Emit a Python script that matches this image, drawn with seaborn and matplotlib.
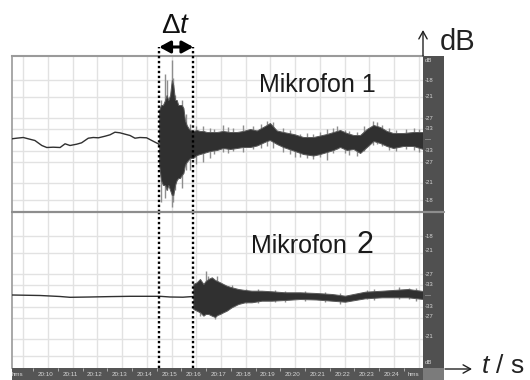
import matplotlib
matplotlib.use("Agg")
import matplotlib.pyplot as plt
import matplotlib.transforms as mtransforms
from matplotlib.lines import Line2D
import seaborn as sns

# ---------------- data (time in s after 20:00, amplitude in relative units) ----------------
# Mikrofon 1: quiet signal before the sound arrives
m1_pre_t = [8.54, 8.73, 9.00, 9.20, 9.47, 9.75, 9.95, 10.21, 10.49, 10.69, 10.89, 11.16, 11.36,
            11.63, 11.83, 12.04, 12.31, 12.51, 12.71, 12.91, 13.12, 13.32, 13.52, 13.72, 13.99,
            14.20, 14.46, 14.50]
m1_pre_a = [1.2, 1.8, 2.5, 1.2, -0.5, -5.5, -7.5, -7.2, -7.5, -3.8, -5.5, -4.2, -2.8,
            1.8, 2.5, 2.2, 3.8, 5.2, 7.8, 7.2, 5.8, 4.5, 1.8, 2.5, 2.2,
            -0.5, -3.8, -4.8]
# Mikrofon 1: envelope of the signal after arrival
m1_t = [14.50, 14.57, 14.65, 14.74, 14.80, 14.87, 14.94, 15.01, 15.07, 15.14, 15.21, 15.27, 15.34,
        15.41, 15.48, 15.54, 15.61, 15.68, 15.75, 15.87, 16.02, 16.15, 16.29, 16.42, 16.56, 16.83,
        17.08, 17.37, 17.64, 17.89, 18.18, 18.45, 18.85, 18.98, 19.26, 19.52, 19.93, 20.33, 20.74,
        21.01, 21.28, 21.55, 21.82, 22.09, 22.36, 22.63, 22.90, 23.17, 23.44, 23.71, 23.97, 24.38,
        24.78, 25.18]
m1_hi = [30, 35, 35, 40, 45, 40, 45, 60, 55, 40, 40, 35, 35, 35, 32, 20, 15, 12, 10, 9,
         10, 9, 9, 8, 8, 8, 9, 8, 8, 9, 11, 9.5, 15, 17, 9.5, 8, 6, 3, 3, 4.5,
         6, 8, 10, 7, 5, 5, 11, 15, 13, 9, 7, 7, 8, 8]
m1_lo = [-25, -40, -45, -45, -50, -45, -50, -55, -55, -45, -40, -38, -38, -35, -33, -25, -22, -20, -18, -18,
         -15, -14, -13, -12, -11, -10, -8, -9, -8, -7, -7, -5.5, -1, 0, -4, -7, -10.5, -14, -15.5, -14,
         -12, -10, -7, -10, -9, -13, -7, -1, -3, -6, -8, -6, -6, -9]
# Mikrofon 1: single peaks sticking out of the envelope
m1_spk_t = [14.57, 14.74, 14.81, 15.01, 15.07, 15.14, 15.41, 15.58, 15.75, 15.99, 16.28, 16.56,
            16.70, 17.08, 17.30, 17.50, 17.89, 18.30, 18.60, 18.86, 19.10, 19.50, 19.80, 20.00,
            20.20, 20.50, 20.74, 21.00, 21.28, 21.55, 21.70, 22.00, 22.20, 22.50, 22.80, 23.15,
            23.30, 23.50, 23.80, 24.10, 24.50, 24.80, 25.00]
m1_spk_lo = [-62, -58, -50, -67, -62, -50, -48, -30, -30, -24, -22, -18,
             -14, -12, -13, -11, -12, -9, -8, -6, -8, -12, -14, -17,
             -17, -18, -19, -17, -20, -13, -9, -13, -15, -16, -11, -5,
             -4, -6, -10, -11, -9, -10, -12]
m1_spk_hi = [40, 66, 60, 80, 62, 45, 40, 26, 16, 14, 14, 12,
             11, 15, 13, 12, 15, 14, 16, 19, 18, 12, 10, 6,
             6, 7, 6, 8, 11, 12, 14, 10, 9, 8, 14, 19,
             18, 15, 12, 10, 11, 12, 11]

# Mikrofon 2
m2_pre_t = [8.54, 9.68, 10.49, 10.89, 11.70, 12.51, 13.32, 14.13, 14.53, 14.94, 15.46, 15.88]
m2_pre_a = [1.0, 0.5, -0.5, -1.3, -1.0, -0.6, -0.3, -0.3, -0.3, -1.0, -1.2, -0.5]
m2_t = [15.88, 16.02, 16.15, 16.29, 16.38, 16.49, 16.63, 16.76, 16.85, 16.96, 17.09, 17.23, 17.43,
        17.70, 17.97, 18.24, 18.65, 19.05, 19.59, 20.20, 20.85, 21.49, 22.02, 22.83, 23.52, 24.57, 25.18]
m2_hi = [12, 13.7, 17, 12, 15, 17, 18.7, 16, 15, 13.7, 12, 10.3, 8.7,
         7, 6, 5.3, 5.3, 4.7, 3.7, 3.7, 3, 2, 0.3, 4.3, 5.3, 7, 5]
m2_lo = [-13, -14.7, -16.3, -19.7, -18, -18, -19.7, -21, -19, -18, -16.3, -14.7, -11.3,
         -8, -6.3, -6.3, -4.7, -4.7, -4, -3, -3.5, -4.7, -5.7, -2.3, -1.3, -1.3, -3]
m2_spk_t = [16.15, 16.38, 16.49, 16.76, 16.85, 17.43, 18.0, 18.5, 19.2, 19.6, 20.4, 21.2,
            21.8, 22.9, 23.2, 24.2, 24.6, 24.9]
m2_spk_lo = [-20, -14, -16, -23, -15, -10, -7, -7, -6, -6, -5, -6,
             -8, -3, -4, -3, -3, -5]
m2_spk_hi = [14, 25, 20, 15, 20, 11, 7, 7, 6, 5, 5, 4,
             3, 6, 7, 9, 8, 8]

# arrival times (dotted markers)
t_arrival = [14.50, 15.88]

# time axis labels
time_ticks = [10, 11, 12, 13, 14, 15, 16, 17, 18, 19, 20, 21, 22, 23, 24]
time_labels = ["20:10", "20:11", "20:12", "20:13", "20:14", "20:15", "20:16", "20:17",
               "20:18", "20:19", "20:20", "20:21", "20:22", "20:23", "20:24"]
grid_t = list(range(9, 26))

# dB scale labels (right strip)
grid_pos = [60, 43, 22, 11, -11, -22, -43, -60]
s1_pos = [80, 60, 43, 22, 11, 0, -11, -22, -43, -60]
s1_lab = ["dB", "-18", "-21", "-27", "-33", "—", "-33", "-27", "-21", "-18"]
s2_pos = [60, 46, 22, 12, 0, -10, -20, -41, -66]
s2_lab = ["-18", "-21", "-27", "-33", "—", "-33", "-27", "-21", "dB"]

T0, T1 = 8.543, 25.176
Y0, Y1 = -72, 84

# ---------------- figure ----------------
sns.set_theme(style="whitegrid")
plt.rcParams["font.family"] = ["Liberation Sans", "DejaVu Sans"]
plt.rcParams["mathtext.fontset"] = "custom"
plt.rcParams["mathtext.rm"] = "Liberation Sans"
plt.rcParams["mathtext.it"] = "Liberation Sans:italic"

W, H = 530, 380
fig = plt.figure(figsize=(W / 100, H / 100), dpi=100)
fig.patch.set_facecolor("white")


def fr(x0, y0, x1, y1):
    return [x0 / W, 1 - y1 / H, (x1 - x0) / W, (y1 - y0) / H]


ax1 = fig.add_axes(fr(12, 56, 423, 212))
ax2 = fig.add_axes(fr(12, 212, 423, 368))
s1 = fig.add_axes(fr(423, 56, 444, 212))
s2 = fig.add_axes(fr(423, 212, 444, 368))
tstrip = fig.add_axes(fr(12, 368, 423, 380))
corner = fig.add_axes(fr(423, 368, 444, 380))

DARK = "#303030"
LIGHT = "#8e8e8e"

for ax in (ax1, ax2):
    ax.set_facecolor("white")
    ax.set_xlim(T0, T1)
    ax.set_ylim(Y0, Y1)
    ax.set_xticks(grid_t)
    ax.set_yticks(grid_pos)
    ax.tick_params(length=0, labelbottom=False, labelleft=False)
    ax.grid(True, color="#e2e2e2", lw=1.0)
    ax.set_axisbelow(True)
    for side in ax.spines:
        ax.spines[side].set_visible(False)
    ax.spines["left"].set_visible(True)
    ax.spines["left"].set_color("#9a9a9a")
    ax.spines["left"].set_linewidth(1.2)
ax1.spines["top"].set_visible(True)
ax1.spines["top"].set_color("#9a9a9a")
ax1.spines["top"].set_linewidth(1.5)

# Mikrofon 1
sns.lineplot(x=m1_pre_t, y=m1_pre_a, ax=ax1, color=DARK, lw=1.0, zorder=3)
ax1.vlines(m1_spk_t, m1_spk_lo, m1_spk_hi, color=LIGHT, lw=1.0, zorder=2)
ax1.fill_between(m1_t, m1_lo, m1_hi, color=DARK, lw=0.7, edgecolor="#5a5a5a", zorder=3)

# Mikrofon 2
sns.lineplot(x=m2_pre_t, y=m2_pre_a, ax=ax2, color=DARK, lw=1.0, zorder=3)
ax2.vlines(m2_spk_t, m2_spk_lo, m2_spk_hi, color=LIGHT, lw=1.0, zorder=2)
ax2.fill_between(m2_t, m2_lo, m2_hi, color=DARK, lw=0.7, edgecolor="#5a5a5a", zorder=3)
for ax in (ax1, ax2):
    ax.set_xlabel("")
    ax.set_ylabel("")

# dotted arrival lines
for t in t_arrival:
    ax1.axvline(t, ymin=0, ymax=(212 - 47) / 156, color="black", lw=1.7,
                ls=(0, (1, 1.1)), clip_on=False, zorder=6)
    ax2.axvline(t, ymin=(368 - 373) / 156, ymax=1, color="black", lw=1.7,
                ls=(0, (1, 1.1)), clip_on=False, zorder=6)

# delta-t arrow
ax1.annotate("", xy=(t_arrival[0], (212 - 47) / 156), xytext=(t_arrival[1], (212 - 47) / 156),
             xycoords=("data", "axes fraction"), textcoords=("data", "axes fraction"),
             arrowprops=dict(arrowstyle="<|-|>,head_length=0.55,head_width=0.3", color="black",
                             lw=2.2, shrinkA=0, shrinkB=0), annotation_clip=False)
fig.text(176 / W, 1 - 33 / H, r"$\Delta t$", ha="center", va="baseline", fontsize=20, color="#111111")

# right dB strips
for s, pos, lab in ((s1, s1_pos, s1_lab), (s2, s2_pos, s2_lab)):
    s.set_facecolor("#505050")
    s.set_xlim(0, 1)
    s.set_ylim(Y0, Y1)
    s.set_xticks([])
    s.set_yticks([])
    s.grid(False)
    for side in s.spines:
        s.spines[side].set_visible(False)
    tr = mtransforms.blended_transform_factory(s.transAxes, s.transData)
    for p, l in zip(pos, lab):
        s.text(0.08, p, l, transform=tr, fontsize=4.3, color="#d6d6d6", ha="left", va="center")

# time strip
tstrip.set_facecolor("#555555")
tstrip.set_xlim(T0, T1)
tstrip.set_ylim(0, 1)
tstrip.set_xticks([])
tstrip.set_yticks([])
tstrip.grid(False)
for side in tstrip.spines:
    tstrip.spines[side].set_visible(False)
for t, l in zip(time_ticks, time_labels):
    tstrip.text(t - 0.1, 0.42, l, fontsize=4.5, color="#d6d6d6", ha="center", va="center")
    tstrip.vlines(t + 0.4, 0.75, 1.0, color="#bdbdbd", lw=0.6)
tstrip.vlines(9.4, 0.75, 1.0, color="#bdbdbd", lw=0.6)
tstrip.text(T0 + 0.2, 0.42, "hms", fontsize=4.5, color="#d6d6d6", ha="center", va="center")
tstrip.text(T1 - 0.37, 0.42, "hms", fontsize=4.5, color="#d6d6d6", ha="center", va="center")

corner.set_facecolor("#7b7b7b")
corner.set_xticks([])
corner.set_yticks([])
corner.grid(False)
for side in corner.spines:
    corner.spines[side].set_visible(False)

# separator between the two channels
fig.add_artist(Line2D([12 / W, 444 / W], [1 - 212 / H, 1 - 212 / H], color="#8d8d8d", lw=1.6))

# channel names
fig.text(259 / W, 1 - 92 / H, "Mikrofon 1", fontsize=18, va="baseline", color="#1a1a1a")
fig.text(251 / W, 1 - 253 / H, "Mikrofon", fontsize=18, va="baseline", color="#1a1a1a")
fig.text(356 / W, 1 - 253 / H, "2", fontsize=22, va="baseline", color="#1a1a1a")

# axis arrows
ax1.annotate("", xy=(423, 380 - 30), xytext=(423, 380 - 56), xycoords="figure pixels",
             textcoords="figure pixels",
             arrowprops=dict(arrowstyle="->,head_length=0.45,head_width=0.25", color="#222222",
                             lw=1.0, shrinkA=0, shrinkB=0), annotation_clip=False)
fig.text(440 / W, 1 - 50 / H, "dB", fontsize=21, va="baseline", color="#222222")
ax1.annotate("", xy=(472, 380 - 369), xytext=(445, 380 - 369), xycoords="figure pixels",
             textcoords="figure pixels",
             arrowprops=dict(arrowstyle="->,head_length=0.45,head_width=0.25", color="#222222",
                             lw=1.0, shrinkA=0, shrinkB=0), annotation_clip=False)
fig.text(481 / W, 1 - 373 / H, r"$t$ / s", fontsize=19, va="baseline", color="#222222")

fig.savefig("out.png", dpi=100)
